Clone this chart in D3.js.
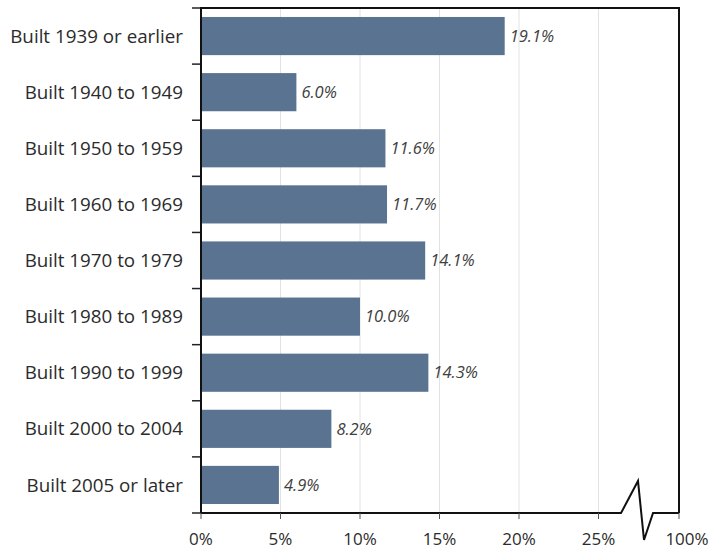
<!DOCTYPE html>
<html><head><meta charset="utf-8">
<script src="https://cdn.jsdelivr.net/npm/d3@7"></script>
<style>body{margin:0;background:#fff}svg{display:block}</style>
</head><body>
<svg id="c" width="715" height="550"></svg>
<script>
const categories = ["Built 1939 or earlier","Built 1940 to 1949","Built 1950 to 1959","Built 1960 to 1969","Built 1970 to 1979","Built 1980 to 1989","Built 1990 to 1999","Built 2000 to 2004","Built 2005 or later"];
const values = [19.1, 6.0, 11.6, 11.7, 14.1, 10.0, 14.3, 8.2, 4.9];
const tickValues = [0, 5, 10, 15, 20, 25, 100];
const tickLabels = ["0%","5%","10%","15%","20%","25%","100%"];

(function () {
const svg = d3.select("#c");
const pL = 201, pR = 679, pT = 8, pB = 513;
const x = d3.scaleLinear().domain([0, 25, 100]).range([pL, 598.5, pR]);
const y = d3.scaleBand().domain(categories).range([pT, pB]).paddingInner(0.32).paddingOuter(0.16);
const font = "'Open Sans', sans-serif";

// gridlines
svg.append("g").selectAll("line").data(tickValues.filter(d => d > 0 && d < 100)).join("line")
  .attr("x1", d => x(d)).attr("x2", d => x(d)).attr("y1", pT).attr("y2", pB)
  .attr("stroke", "#e2e2e2").attr("stroke-width", 1);

// bars
svg.append("g").selectAll("rect").data(values).join("rect")
  .attr("x", x(0)).attr("y", (d, i) => y(categories[i]))
  .attr("width", d => x(d) - x(0)).attr("height", y.bandwidth())
  .attr("fill", "#5a7391");

// value labels
svg.append("g").selectAll("text").data(values).join("text")
  .attr("x", d => x(d) + 5).attr("y", (d, i) => y(categories[i]) + y.bandwidth() / 2)
  .attr("dy", "0.35em").attr("font-family", font).attr("font-style", "italic")
  .attr("font-size", 16.5).attr("fill", "#404040")
  .text(d => d.toFixed(1) + "%");

// category labels
svg.append("g").selectAll("text").data(categories).join("text")
  .attr("x", 183).attr("y", d => y(d) + y.bandwidth() / 2)
  .attr("dy", "0.35em").attr("text-anchor", "end")
  .attr("font-family", font).attr("font-size", 18.8).attr("fill", "#2b2b2b")
  .text(d => d);

// left boundary ticks
const bounds = d3.range(categories.length + 1).map(i => pT + i * (pB - pT) / categories.length);
svg.append("g").selectAll("line").data(bounds).join("line")
  .attr("x1", pL - 9).attr("x2", pL).attr("y1", d => d).attr("y2", d => d)
  .attr("stroke", "#222").attr("stroke-width", 1.5);

// frame: left, top, right
svg.append("path")
  .attr("d", `M${pL},${pB}V${pT}H${pR}V${pB}`)
  .attr("fill", "none").attr("stroke", "#111").attr("stroke-width", 2);

// bottom axis with break
svg.append("path")
  .attr("d", `M${pL},${pB}H${x(46)}L${x(61.8)},481L${x(67.4)},540L${x(75.8)},${pB}H${pR}`)
  .attr("fill", "none").attr("stroke", "#111").attr("stroke-width", 2);

// bottom ticks
svg.append("g").selectAll("line").data(tickValues).join("line")
  .attr("x1", d => x(d)).attr("x2", d => x(d)).attr("y1", pB).attr("y2", pB + 6)
  .attr("stroke", "#555").attr("stroke-width", 1);

svg.append("g").selectAll("text").data(tickValues).join("text")
  .attr("x", d => x(d) + (d === 100 ? 8 : 0)).attr("y", 545)
  .attr("text-anchor", "middle").attr("font-family", font).attr("font-size", 17).attr("fill", "#2b2b2b")
  .text((d, i) => tickLabels[i]);
})();
</script>
</body></html>
